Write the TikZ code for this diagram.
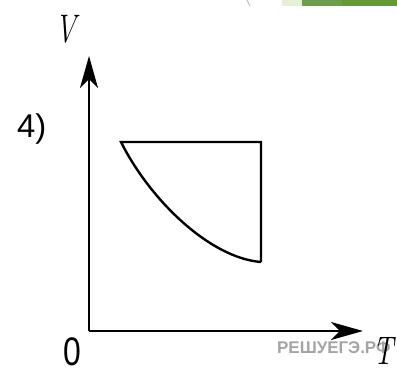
\documentclass[tikz,border=0pt]{standalone}
\usepackage{fontspec}
\newfontfamily\arialfont{Liberation Sans}
\usetikzlibrary{arrows.meta}
\definecolor{lightgreen}{HTML}{E4EFD6}
\definecolor{midgreen}{HTML}{6F9D4E}
\definecolor{darkgreen}{HTML}{65983D}
\definecolor{wmgray}{HTML}{A4A4A4}
\tikzset{
  axis/.style={line width=2.2bp, -{Stealth[length=32bp, width=18bp, inset=9bp]}},
  graphline/.style={line width=2.4bp, line join=miter},
  italiclabel/.style={inner sep=0pt, anchor=base, font=\fontsize{40}{40}\selectfont\itshape, xscale=0.72},
  sanslabel/.style={inner sep=0pt, anchor=base west, font=\arialfont\fontsize{33}{33}\selectfont},
}
\begin{document}
\begin{tikzpicture}[x=1bp, y=-1bp]
\useasboundingbox (0,0) rectangle (397,368);
\clip (0,0) rectangle (397,368);
% slide remnants at top
\fill[lightgreen] (282,0) rectangle (302,6);
\fill[midgreen] (302,0) rectangle (342,6);
\fill[darkgreen] (342,0) rectangle (397,6);
\draw[gray!50, line width=1bp] (247,0) -- (250,6);
% axes
\coordinate (O) at (89,331);
\coordinate (Ytip) at (89,56);
\coordinate (Xtip) at (363,331);
\draw[axis] (O) -- (Ytip);
\draw[axis] (O) -- (Xtip);
% graph
\coordinate (A) at (121,142);
\coordinate (B) at (261,142);
\coordinate (C) at (261,262);
\draw[graphline] (C) -- (B) -- (A) .. controls (150,200) and (210,258) .. (C);
% labels
\node[italiclabel] (V) at (66,42) {V};
\node[sanslabel] (num) at (17,137) {4)};
\node[sanslabel, anchor=base, xscale=0.8, font=\arialfont\fontsize{40}{40}\selectfont] (zero) at (72,365) {0};
\node[inner sep=0pt, anchor=base west, text=wmgray, font=\arialfont\bfseries\fontsize{17}{17}\selectfont] (wm) at (277,353) {РЕШУЕГЭ.РФ};
\node[italiclabel] (T) at (384,364) {T};
\end{tikzpicture}
\end{document}
